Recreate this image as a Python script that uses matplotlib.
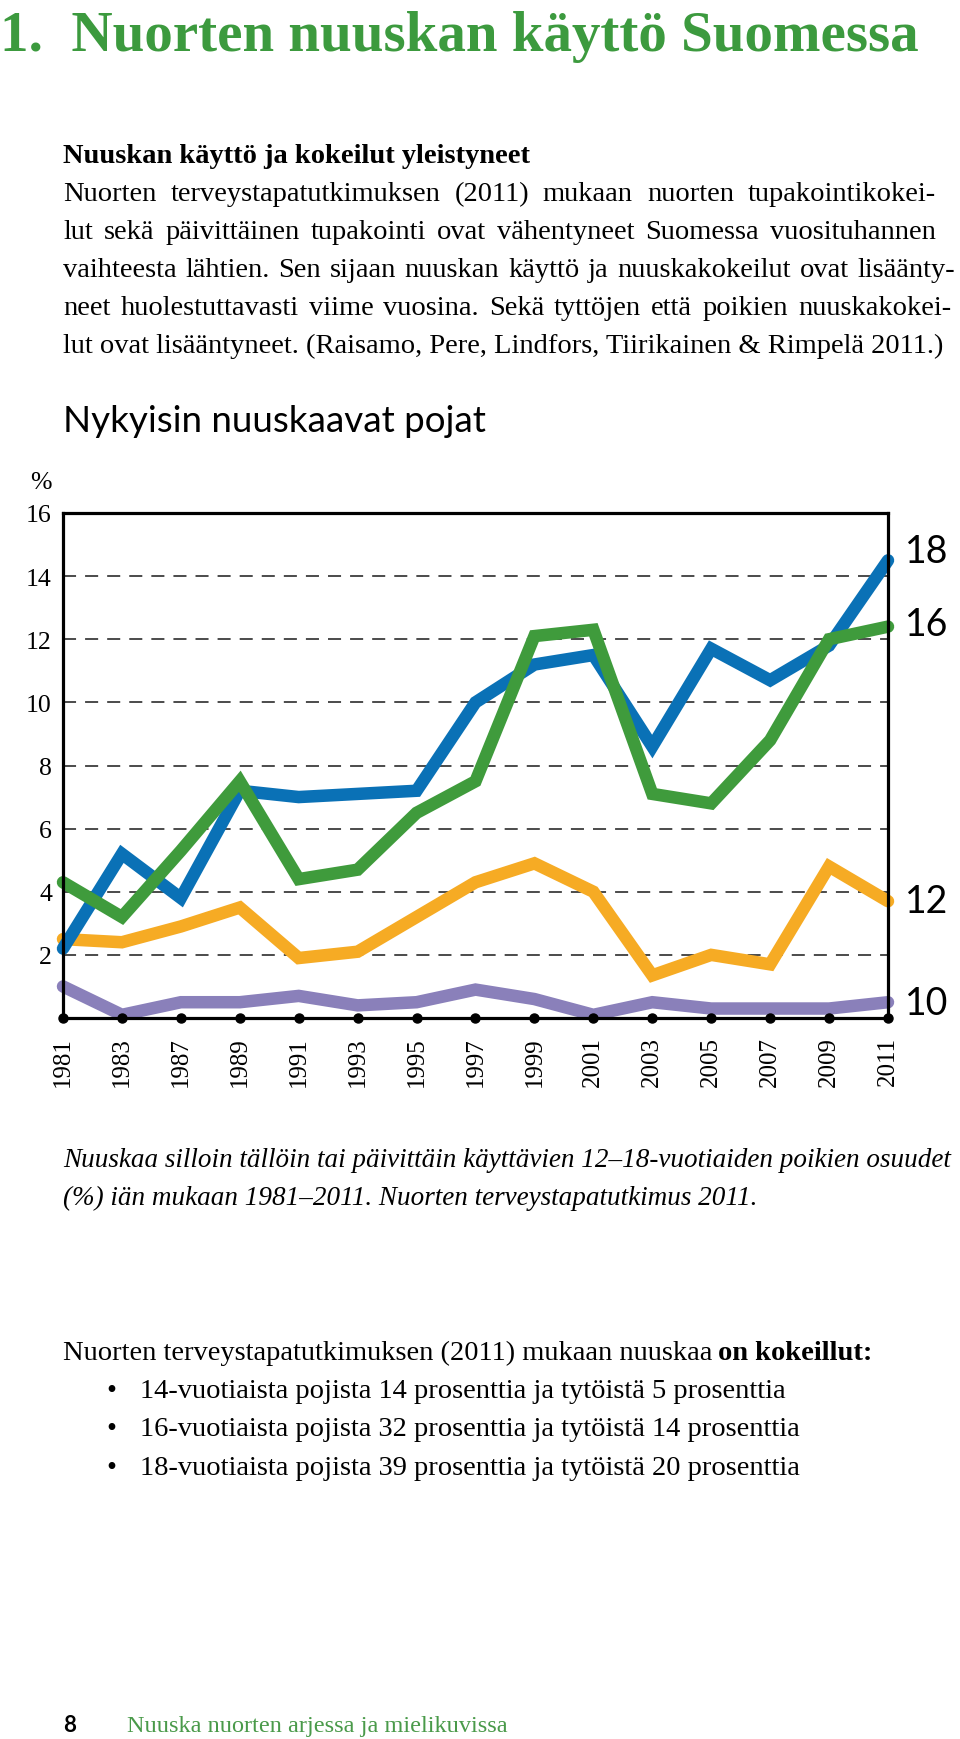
import numpy as np
import matplotlib
matplotlib.use('Agg')
import matplotlib.pyplot as plt

plt.rcParams['lines.scale_dashes'] = False

# data (% of boys who use snuff, by age)
years = ['1981', '1983', '1987', '1989', '1991', '1993', '1995', '1997',
         '1999', '2001', '2003', '2005', '2007', '2009', '2011']
age18 = [2.2, 5.2, 3.8, 7.2, 7.0, 7.1, 7.2, 10.0, 11.2, 11.5, 8.6, 11.7, 10.7, 11.8, 14.5]
age16 = [4.3, 3.2, 5.3, 7.5, 4.4, 4.7, 6.5, 7.5, 12.1, 12.3, 7.1, 6.8, 8.8, 12.0, 12.4]
age14 = [2.5, 2.4, 2.9, 3.5, 1.9, 2.1, 3.2, 4.3, 4.9, 4.0, 1.35, 2.0, 1.7, 4.8, 3.7]
age12 = [1.0, 0.1, 0.5, 0.5, 0.7, 0.4, 0.5, 0.9, 0.6, 0.1, 0.5, 0.3, 0.3, 0.3, 0.5]
end_labels = ['18', '16', '12', '10']
yticks = [2, 4, 6, 8, 10, 12, 14, 16]

title = '1.  Nuorten nuuskan käyttö Suomessa'
intro_head = 'Nuuskan käyttö ja kokeilut yleistyneet'
intro_lines = [
    'Nuorten terveystapatutkimuksen (2011) mukaan nuorten tupakointikokei-',
    'lut sekä päivittäinen tupakointi ovat vähentyneet Suomessa vuosituhannen',
    'vaihteesta lähtien. Sen sijaan nuuskan käyttö ja nuuskakokeilut ovat lisäänty-',
    'neet huolestuttavasti viime vuosina. Sekä tyttöjen että poikien nuuskakokei-',
    'lut ovat lisääntyneet. (Raisamo, Pere, Lindfors, Tiirikainen & Rimpelä 2011.)',
]
chart_title = 'Nykyisin nuuskaavat pojat'
caption = ['Nuuskaa silloin tällöin tai päivittäin käyttävien 12–18-vuotiaiden poikien osuudet',
           '(%) iän mukaan 1981–2011. Nuorten terveystapatutkimus 2011.']
tried_intro = 'Nuorten terveystapatutkimuksen (2011) mukaan nuuskaa'
tried_bold = 'on kokeillut:'
bullets = ['14-vuotiaista pojista 14 prosenttia ja tytöistä 5 prosenttia',
           '16-vuotiaista pojista 32 prosenttia ja tytöistä 14 prosenttia',
           '18-vuotiaista pojista 39 prosenttia ja tytöistä 20 prosenttia']
footer = 'Nuuska nuorten arjessa ja mielikuvissa'

W, H = 960, 1740
SERIF = 'Liberation Serif'
SANS = 'Lato'
GREEN_TXT = '#3c9a3e'
BODY = 20.5


def fx(px):
    return px / W


def fy(py):
    return 1 - py / H


fig = plt.figure(figsize=(W / 100, H / 100), dpi=100)
r = fig.canvas.get_renderer()


def justified(y, line, right, **kw):
    # spread the words of one line between x=63 and right (pixels)
    words = line.split(' ')
    ts = [fig.text(fx(63), fy(y), w, va='baseline', **kw) for w in words]
    widths = [t.get_window_extent(renderer=r).width for t in ts]
    gap = (right - 63 - sum(widths)) / (len(words) - 1)
    pos = 63
    for t, wd in zip(ts, widths):
        t.set_x(fx(pos))
        pos += wd + gap


# ---- chart ----
ax = fig.add_axes([fx(63), fy(1019), (888 - 63) / W, (1019 - 514) / H])
x = np.arange(len(years))

for v in yticks[:-1]:
    ax.axhline(v, color='#1a1a1a', lw=1.1, dashes=(9.4, 6.5), zorder=1)

series = [(age12, '#8a80ba'), (age14, '#f6ab24'), (age18, '#0a71b6'), (age16, '#3f9b3c')]
for vals, col in series:
    ax.plot(x, vals, color=col, lw=9, solid_capstyle='round', solid_joinstyle='miter',
            clip_on=False, zorder=3)

ax.plot(x, np.zeros(len(x)), 'o', color='black', ms=6.5, clip_on=False, zorder=6)

# labels at the line ends: nudge (points) off the last value
ends = [(age18, 7), (age16, 2), (age14, 0.5), (age12, -0.5)]
for lab, (vals, dy) in zip(end_labels, ends):
    ax.annotate(lab, (x[-1], vals[-1]), xytext=(12, dy), textcoords='offset points',
                ha='left', va='center', fontsize=27, family=SANS, annotation_clip=False)

ax.set_xlim(0, len(years) - 1)
ax.set_ylim(0, 16)
ax.set_xticks(x)
ax.set_xticklabels(years, rotation=90, family=SERIF, fontsize=18)
ax.set_yticks(yticks)
ax.set_yticklabels([str(v) for v in yticks], family=SERIF, fontsize=18.5)
ax.tick_params(axis='x', length=0, pad=13)
ax.tick_params(axis='y', length=0, pad=8)
for s in ax.spines.values():
    s.set_linewidth(2.3)
    s.set_color('black')
    s.set_zorder(5)

fig.text(fx(52), fy(483), '%', ha='right', va='center', family=SERIF, fontsize=18.5)

# ---- texts ----
fig.text(0, fy(51), title, family=SERIF, weight='bold', fontsize=41, color=GREEN_TXT,
         va='baseline')
fig.text(fx(63), fy(163), intro_head, family=SERIF, weight='bold', fontsize=BODY,
         va='baseline')
rights = [936, 936, 955, 951]
for i, line in enumerate(intro_lines):
    if i < len(rights):
        justified(201 + 38 * i, line, rights[i], family=SERIF, fontsize=BODY)
    else:
        fig.text(fx(63), fy(201 + 38 * i), line, family=SERIF, fontsize=BODY, va='baseline')

fig.text(fx(63), fy(432), chart_title, family=SANS, fontsize=26.5, va='baseline')

for i, line in enumerate(caption):
    fig.text(fx(63), fy(1167 + 38 * i), line, family=SERIF, style='italic', fontsize=19.5,
             va='baseline')

t = fig.text(fx(63), fy(1360), tried_intro, family=SERIF, fontsize=BODY, va='baseline')
bb = t.get_window_extent(renderer=r)
fig.text((bb.x1 + 6) / W, fy(1360), tried_bold, family=SERIF, weight='bold', fontsize=BODY,
         va='baseline')
for i, line in enumerate(bullets):
    yb = 1398 + 38.5 * i
    fig.text(fx(106), fy(yb), '•', family=SERIF, fontsize=BODY, va='baseline')
    fig.text(fx(140), fy(yb), line, family=SERIF, fontsize=BODY, va='baseline')

fig.text(fx(63), fy(1732), '8', family=SANS, weight='bold', fontsize=16, va='baseline')
fig.text(fx(127), fy(1732), footer, family=SERIF, fontsize=17.5, color='#4a9a4a',
         va='baseline')

fig.savefig('out.png', dpi=100, facecolor='white')
